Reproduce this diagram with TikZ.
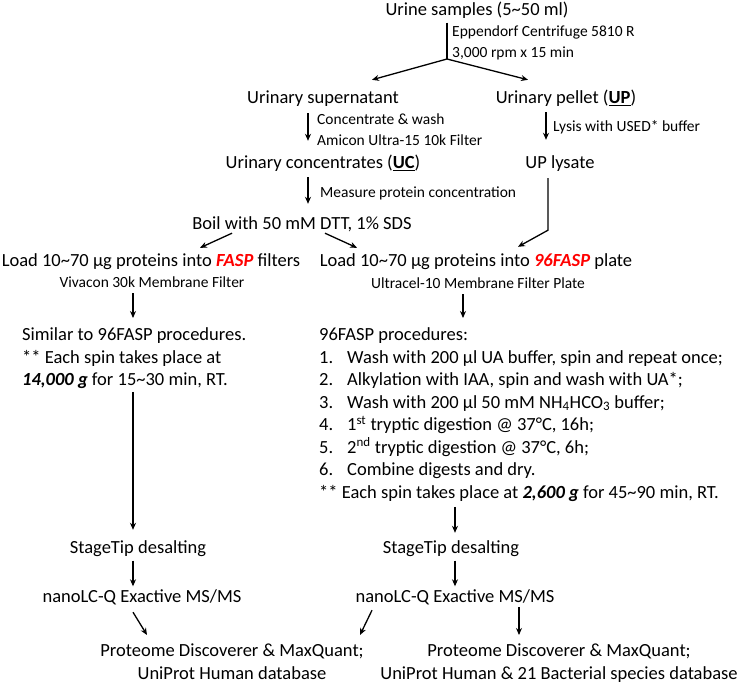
\documentclass[tikz,border=0pt]{standalone}
\usepackage{fontspec}
\setmainfont{Carlito}
\usepackage{xcolor}
\usetikzlibrary{arrows.meta, positioning}
\newcommand{\bigtxt}{\fontsize{18.5}{22.5}\selectfont}
\newcommand{\smalltxt}{\fontsize{15.5}{20.5}\selectfont}
\newcommand{\tl}{\textasciitilde}
\tikzset{
    lbl/.style={font=\bigtxt, inner xsep=0pt, inner ysep=3pt, text height=13pt, text depth=4pt, anchor=base},
    sublbl/.style={font=\smalltxt, inner xsep=0pt, inner ysep=2pt, text height=11pt, text depth=3.5pt, anchor=base},
    note/.style={font=\smalltxt, inner sep=0pt, align=left, anchor=north west},
    block/.style={font=\bigtxt, inner sep=0pt, align=left, anchor=north west},
    result/.style={font=\bigtxt, inner sep=0pt, align=center, anchor=north},
    flow/.style={-{Stealth[length=7pt,width=6pt]}, line width=1.3pt}
}
\begin{document}
\begin{tikzpicture}[x=1pt, y=-1pt]
    \path[use as bounding box, fill=white] (0,0) rectangle (740,683);

    % Samples and split
    \node[lbl] (urine) at (477,15.5) {Urine samples (5\tl50 ml)};
    \node[note] (spin) at (452,26) {Eppendorf Centrifuge 5810 R\\3,000 rpm x 15 min};
    \coordinate (split) at (447,59);
    \node[lbl] (super) at (323,103.5) {Urinary supernatant};
    \node[lbl] (pellet) at (566,103.5) {Urinary pellet (\underline{\textbf{UP}})};

    % Supernatant branch
    \node[note] (concnote) at (317,114) {Concentrate \& wash\\Amicon Ultra-15 10k Filter};
    \node[lbl] (conc) at (323,168.5) {Urinary concentrates (\underline{\textbf{UC}})};
    \node[note] (measnote) at (320,187) {Measure protein concentration};
    \node[lbl] (boil) at (302,229.5) {Boil with 50 mM DTT, 1\% SDS};

    % Pellet branch
    \node[note] (lysnote) at (553,120) {Lysis with USED* buffer};
    \node[lbl] (uplys) at (560,168.5) {UP lysate};

    % Filter loading
    \node[lbl] (fasp) at (151,266) {Load 10\tl70 µg proteins into \textcolor{red}{\textbf{\textit{FASP}}} filters};
    \node[sublbl] (vivacon) at (152,287.7) {Vivacon 30k Membrane Filter};
    \node[lbl] (fasp96) at (476,266) {Load 10\tl70 µg proteins into \textcolor{red}{\textbf{\textit{96FASP}}} plate};
    \node[sublbl] (ultracel) at (478,288.7) {Ultracel-10 Membrane Filter Plate};

    % Procedures
    \node[block] (similar) at (22,327.6) {Similar to 96FASP procedures.\\** Each spin takes place at\\\textbf{\textit{14,000 g}} for 15\tl30 min, RT.};
    \node[block] (proc) at (319,327.6) {96FASP procedures:\\
        \makebox[28pt][l]{1.}Wash with 200 µl UA buffer, spin and repeat once;\\
        \makebox[28pt][l]{2.}Alkylation with IAA, spin and wash with UA*;\\
        \makebox[28pt][l]{3.}Wash with 200 µl 50 mM NH\textsubscript{4}HCO\textsubscript{3} buffer;\\
        \makebox[28pt][l]{4.}1\textsuperscript{st} tryptic digestion @ 37°C, 16h;\\
        \makebox[28pt][l]{5.}2\textsuperscript{nd} tryptic digestion @ 37°C, 6h;\\
        \makebox[28pt][l]{6.}Combine digests and dry.\\
        ** Each spin takes place at \textbf{\textit{2,600 g}} for 45\tl90 min, RT.};

    % Desalting and MS
    \node[lbl] (stage1) at (138,553.5) {StageTip desalting};
    \node[lbl] (stage2) at (451,553.5) {StageTip desalting};
    \node[lbl] (nano1) at (142,602.5) {nanoLC-Q Exactive MS/MS};
    \node[lbl] (nano2) at (455,602.5) {nanoLC-Q Exactive MS/MS};

    % Database search
    \node[result] (pd1) at (232,643.6) {Proteome Discoverer \& MaxQuant;\\UniProt Human database};
    \node[result] (pd2) at (559,643.6) {Proteome Discoverer \& MaxQuant;\\UniProt Human \& 21 Bacterial species database};

    % Flows
    \draw[line width=1.3pt] ([xshift=-30pt]urine.south) -- (split);
    \draw[flow] (split) -- ([xshift=49pt,yshift=7.5pt]super.north);
    \draw[flow] (split) -- ([xshift=-38pt,yshift=7.5pt]pellet.north);
    \draw[flow, shorten <=2.5pt, shorten >=11.5pt] ([xshift=-15pt]super.south) -- ([xshift=-15pt]conc.north);
    \draw[flow, shorten <=1.5pt, shorten >=12.5pt] ([xshift=-20pt]pellet.south) -- ([xshift=-20pt]pellet.south |- uplys.north);
    \draw[flow, shorten <=1.5pt, shorten >=9.5pt] ([xshift=-15pt]conc.south) -- ([xshift=-15pt]conc.south |- boil.north);
    \draw[flow] ([xshift=-12pt,yshift=-2.5pt]uplys.south) -- ++(0,52) -- ([xshift=42pt,yshift=3pt]fasp96.north);
    \draw[flow] ([xshift=-70pt,yshift=3.5pt]boil.south) -- ([xshift=49pt,yshift=2pt]fasp.north);
    \draw[flow] ([xshift=23pt,yshift=3.5pt]boil.south) -- ([xshift=-119pt,yshift=2pt]fasp96.north);
    \draw[flow, shorten >=9.6pt] ([xshift=-19pt]vivacon.south) -- ([xshift=-19pt]vivacon.south |- similar.north);
    \draw[flow, shorten >=9.6pt] ([xshift=-15pt]ultracel.south) -- ([xshift=-15pt]ultracel.south |- proc.north);
    \draw[flow, shorten <=2.8pt, shorten >=7.5pt] ([xshift=111pt]similar.south west) -- ([xshift=111pt]similar.south west |- stage1.north);
    \draw[flow, shorten <=5.3pt, shorten >=4.5pt] ([xshift=136pt]proc.south west) -- ([xshift=136pt]proc.south west |- stage2.north);
    \draw[flow] ([xshift=-5pt]stage1.south) -- ([xshift=-5pt]stage1.south |- nano1.north);
    \draw[flow] ([xshift=4pt]stage2.south) -- ([xshift=4pt]stage2.south |- nano2.north);
    \draw[flow] ([xshift=-9pt,yshift=-2.5pt]nano1.south) -- ([xshift=-85pt,yshift=8.6pt]pd1.north);
    \draw[flow] ([xshift=-83pt,yshift=-0.5pt]nano2.south) -- ([xshift=128pt,yshift=8.6pt]pd1.north);
    \draw[flow] ([xshift=64pt,yshift=2.5pt]nano2.south) -- ([xshift=-40pt,yshift=8.6pt]pd2.north);
\end{tikzpicture}
\end{document}
